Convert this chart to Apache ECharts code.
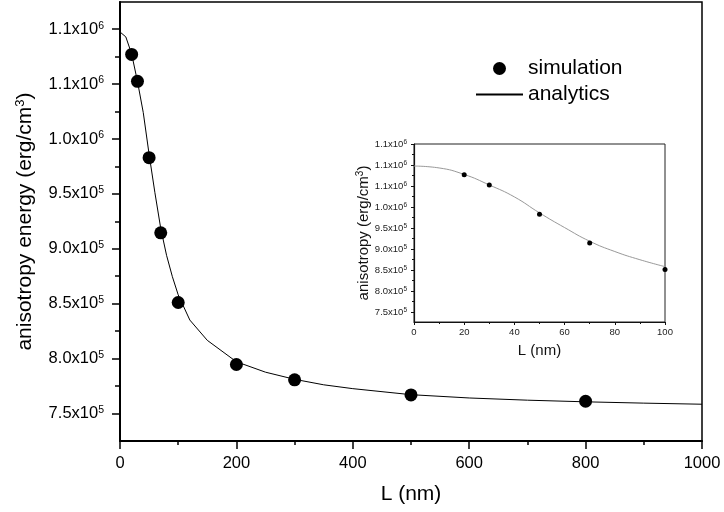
<!DOCTYPE html>
<html>
<head>
<meta charset="utf-8">
<title>anisotropy energy vs L</title>
<script src="https://cdn.jsdelivr.net/npm/echarts@6/dist/echarts.min.js"></script>
<style>
  html, body { margin: 0; padding: 0; background: #fff; }
  #chart { width: 724px; height: 512px; }
</style>
</head>
<body>
<div id="chart"></div>
<script>
// simulation points: L (nm) -> anisotropy energy (erg/cm^3)
var simL = [20, 30, 50, 70, 100, 200, 300, 500, 800];
var simE = [1077000, 1052500, 983000, 914500, 851000, 794500, 780500, 766800, 761000];

// analytic curve
var anaL = [0, 10, 20, 30, 40, 50, 60, 70, 80, 90, 100, 120, 150, 200, 250, 300, 350, 400, 500, 600, 700, 800, 900, 1000];
var anaE = [1097500, 1093000, 1077500, 1052500, 1024000, 986000, 951000, 918500, 894000, 874500, 858000,
            835000, 816500, 797000, 787500, 781000, 776000, 772500, 767000, 764000, 762000, 760500, 759300, 758300];

// y tick labels as printed on the figure (mantissa x10^exp)
var mainYTicks = [750000, 800000, 850000, 900000, 950000, 1000000, 1050000, 1100000];
var mainYMant  = ['7.5', '8.0', '8.5', '9.0', '9.5', '1.0', '1.1', '1.1'];
var mainYExp   = ['5', '5', '5', '5', '5', '6', '6', '6'];

var insetYTicks = [750000, 800000, 850000, 900000, 950000, 1000000, 1050000, 1100000, 1150000];
var insetYMant  = ['7.5', '8.0', '8.5', '9.0', '9.5', '1.0', '1.1', '1.1', '1.1'];
var insetYExp   = ['5', '5', '5', '5', '5', '6', '6', '6', '6'];

var insetMaxL = 100;

function pairs(xs, ys) {
    return xs.map(function (x, i) { return [x, ys[i]]; });
}
function upTo(xs, ys, lim) {
    return pairs(xs, ys).filter(function (p) { return p[0] <= lim; });
}
function halfway(ticks) {
    var out = [];
    for (var i = 0; i < ticks.length - 1; i++) out.push((ticks[i] + ticks[i + 1]) / 2);
    return out;
}
function sciLabel(ticks, mant, exp) {
    return function (v) {
        for (var i = 0; i < ticks.length; i++) {
            if (Math.abs(ticks[i] - v) < 1) return '{m|' + mant[i] + 'x10}{e|' + exp[i] + '}';
        }
        return '';
    };
}
function plain(v) {
    return String(v);
}

var font = 'Liberation Sans, Arial, sans-serif';
var chart = echarts.init(document.getElementById('chart'));

var option = {
    animation: false,
    textStyle: { fontFamily: font, color: '#000' },
    legend: {
        data: ['simulation', { name: 'analytics', itemStyle: { opacity: 0 } }],
        orient: 'vertical',
        left: 470,
        top: 53,
        itemWidth: 47,
        itemHeight: 13,
        itemGap: 5,
        textStyle: { fontSize: 21, color: '#000', lineHeight: 20, fontFamily: font }
    },
    grid: [
        { left: 120, top: 2, width: 582, height: 439, show: true, borderColor: '#000', borderWidth: 1.5, backgroundColor: 'transparent' },
        { left: 414, top: 144, width: 251, height: 178, show: true, borderColor: '#222', borderWidth: 1, backgroundColor: '#fff' }
    ],
    xAxis: [
        {
            type: 'value', gridIndex: 0, min: 0, max: 1000, interval: 200,
            name: 'L (nm)', nameLocation: 'middle', nameGap: 43,
            nameTextStyle: { fontSize: 21, color: '#000' },
            axisLine: { lineStyle: { color: '#000', width: 2 } },
            axisTick: { length: 8, lineStyle: { color: '#000', width: 1.5 } },
            minorTick: { show: true, splitNumber: 2, length: 4, lineStyle: { color: '#000', width: 1.5 } },
            axisLabel: { fontSize: 16.5, color: '#000', margin: 14, formatter: plain },
            splitLine: { show: false }
        },
        {
            type: 'value', gridIndex: 1, min: 0, max: insetMaxL, interval: 20,
            name: 'L (nm)', nameLocation: 'middle', nameGap: 21,
            nameTextStyle: { fontSize: 15, color: '#111' },
            axisLine: { lineStyle: { color: '#111', width: 1.2 } },
            axisTick: { length: 3, lineStyle: { color: '#111' } },
            minorTick: { show: true, splitNumber: 2, length: 2, lineStyle: { color: '#111' } },
            axisLabel: { fontSize: 9.5, color: '#222', margin: 5, formatter: plain },
            splitLine: { show: false }
        }
    ],
    yAxis: [
        {
            type: 'value', gridIndex: 0, position: 'left', min: 724800, max: 1124800,
            name: '{n|anisotropy energy (erg/cm}{s|3}{n|)}', nameLocation: 'middle', nameGap: 84,
            nameTextStyle: {
                rich: {
                    n: { fontSize: 21, color: '#000', lineHeight: 22 },
                    s: { fontSize: 13, color: '#000', verticalAlign: 'top', lineHeight: 13 }
                }
            },
            axisLine: { lineStyle: { color: '#000', width: 2 } },
            axisTick: { length: 8, customValues: mainYTicks, lineStyle: { color: '#000', width: 1.5 } },
            axisLabel: {
                customValues: mainYTicks,
                margin: 16,
                formatter: sciLabel(mainYTicks, mainYMant, mainYExp),
                rich: {
                    m: { fontSize: 16.5, color: '#000', lineHeight: 18 },
                    e: { fontSize: 10.5, color: '#000', verticalAlign: 'top', lineHeight: 11 }
                }
            },
            splitLine: { show: false }
        },
        {
            // minor ticks of the main y axis
            type: 'value', gridIndex: 0, position: 'left', offset: 0, min: 724800, max: 1124800,
            axisLine: { show: false },
            axisTick: { length: 5, customValues: halfway(mainYTicks), lineStyle: { color: '#000', width: 1.5 } },
            axisLabel: { show: false },
            splitLine: { show: false }
        },
        {
            type: 'value', gridIndex: 1, position: 'left', min: 726200, max: 1150000,
            name: '{n|anisotropy (erg/cm}{s|3}{n|)}', nameLocation: 'middle', nameGap: 42,
            nameTextStyle: {
                rich: {
                    n: { fontSize: 15, color: '#111', lineHeight: 16 },
                    s: { fontSize: 10, color: '#111', verticalAlign: 'top', lineHeight: 10 }
                }
            },
            axisLine: { lineStyle: { color: '#111', width: 1.2 } },
            axisTick: { length: 3, customValues: insetYTicks, lineStyle: { color: '#111' } },
            axisLabel: {
                customValues: insetYTicks,
                margin: 7,
                formatter: sciLabel(insetYTicks, insetYMant, insetYExp),
                rich: {
                    m: { fontSize: 9.5, color: '#222', lineHeight: 11 },
                    e: { fontSize: 6.5, color: '#222', verticalAlign: 'top', lineHeight: 7 }
                }
            },
            splitLine: { show: false }
        },
        {
            // minor ticks of the inset y axis
            type: 'value', gridIndex: 1, position: 'left', offset: 0, min: 726200, max: 1150000,
            axisLine: { show: false },
            axisTick: { length: 2, customValues: halfway(insetYTicks), lineStyle: { color: '#111' } },
            axisLabel: { show: false },
            splitLine: { show: false }
        }
    ],
    series: [
        {
            name: 'simulation', type: 'scatter', xAxisIndex: 0, yAxisIndex: 0,
            symbol: 'circle', symbolSize: 13,
            itemStyle: { color: '#000', opacity: 1 },
            data: pairs(simL, simE), z: 3
        },
        {
            name: 'analytics', type: 'line', xAxisIndex: 0, yAxisIndex: 0,
            symbol: 'none', smooth: false,
            lineStyle: { color: '#000', width: 1 },
            itemStyle: { color: '#000' },
            data: pairs(anaL, anaE), z: 2
        },
        {
            name: 'simulation (inset)', type: 'scatter', xAxisIndex: 1, yAxisIndex: 2,
            symbol: 'circle', symbolSize: 5,
            itemStyle: { color: '#000', opacity: 1 },
            data: upTo(simL, simE, insetMaxL), z: 3
        },
        {
            name: 'analytics (inset)', type: 'line', xAxisIndex: 1, yAxisIndex: 2,
            symbol: 'none', smooth: true,
            lineStyle: { color: '#999', width: 1 },
            data: upTo(anaL, anaE, insetMaxL), z: 2
        }
    ]
};

chart.setOption(option);
window.addEventListener('resize', function () {
    chart.resize();
});
</script>
</body>
</html>
